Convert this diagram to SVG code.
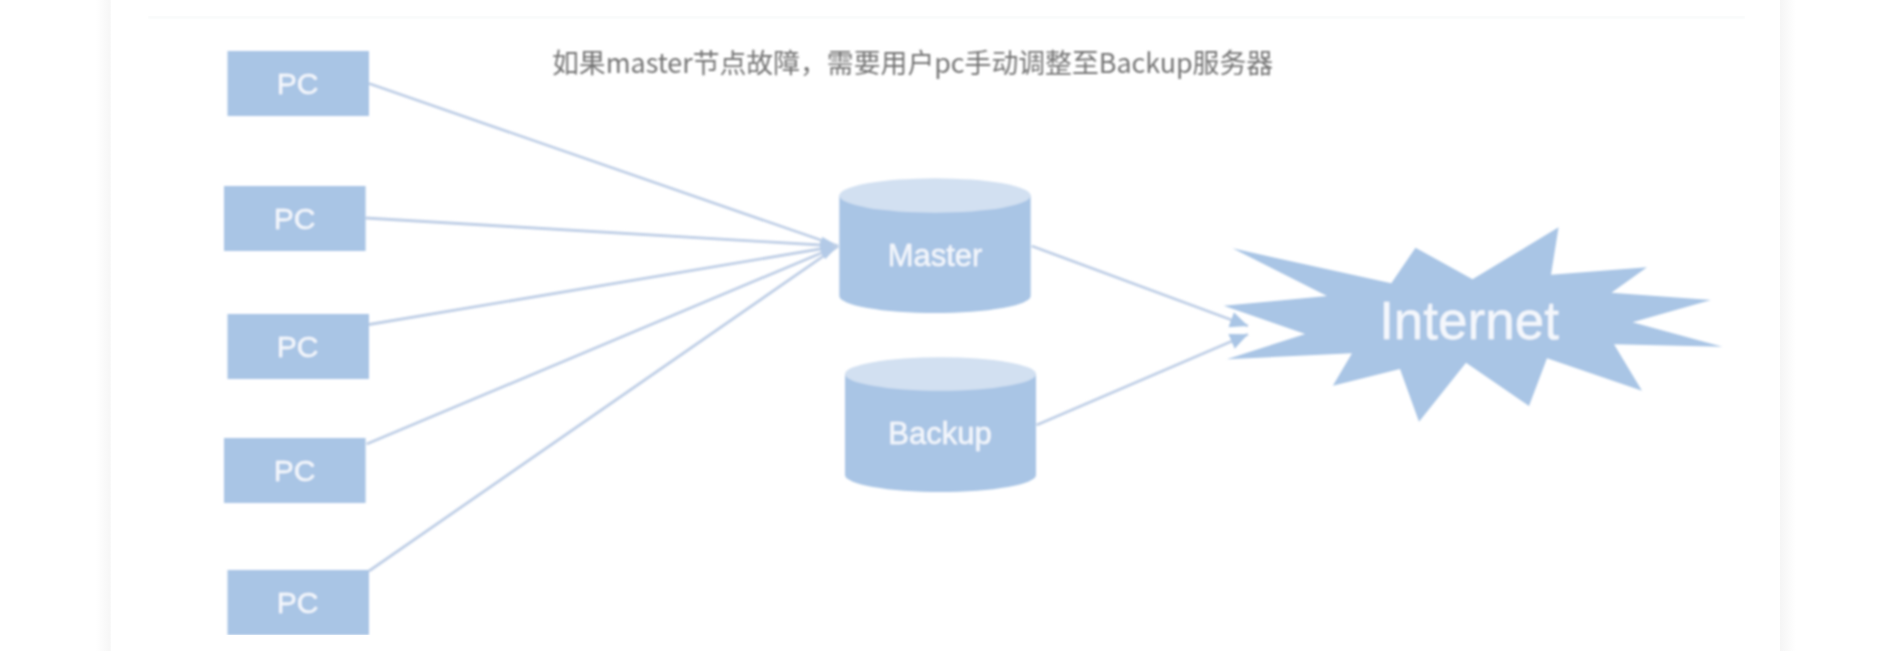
<svg xmlns="http://www.w3.org/2000/svg" width="1899" height="651" viewBox="0 0 1899 651">
<style>
.box{fill:#a9c5e5}
.lid{fill:#d2e0f1}
.lbl{fill:#f4f7fc;stroke:#f4f7fc;stroke-width:.4;font-family:"Liberation Sans",Arial,sans-serif;text-anchor:middle}
.pc{font-size:30px}
.db{font-size:31px}
.conn{fill:none;stroke:#bfcfe6;stroke-width:2.8}
.fan{marker-end:url(#fanarr)}
.out{marker-end:url(#arr)}
.note{fill:#737373;font-family:"Noto Sans CJK SC","Noto Sans",sans-serif;font-size:26.850px}
</style>
<defs>
<marker id="arr" markerUnits="userSpaceOnUse" markerWidth="20" markerHeight="20" refX="18" refY="8" orient="auto"><path d="M0 0L18 8L0 16Z" fill="#a9c5e5"/></marker>
<marker id="fanarr" markerUnits="userSpaceOnUse" markerWidth="20" markerHeight="12" refX="18" refY="5" orient="auto"><path d="M0 1.500L18 5L0 8.500Z" fill="#b3cae7"/></marker>
<linearGradient id="gl" x1="0" x2="1" y1="0" y2="0"><stop offset="0" stop-color="#ffffff"/><stop offset="1" stop-color="#f6f6f6"/></linearGradient>
<linearGradient id="gr" x1="0" x2="1" y1="0" y2="0"><stop offset="0" stop-color="#f5f5f5"/><stop offset="1" stop-color="#ffffff"/></linearGradient>
<filter id="soft" x="0" y="0" width="100%" height="100%"><feGaussianBlur stdDeviation="1"/></filter>
</defs>
<rect width="1899" height="651" fill="#ffffff"/>
<rect x="96" y="0" width="14.700" height="651" fill="url(#gl)"/>
<rect x="1780" y="0" width="16" height="651" fill="url(#gr)"/>
<g filter="url(#soft)">
<rect x="148" y="16.500" width="1597" height="1.500" fill="#f2f6f6"/>
<g id="connectors">
<path class="conn fan" d="M369 83.500L838 246"/>
<path class="conn fan" d="M365.600 218L838 246"/>
<path class="conn fan" d="M369 324.500L838 246"/>
<path class="conn fan" d="M366.700 444L838 246"/>
<path class="conn fan" d="M369 571L838 246"/>
<path class="conn out" d="M1031.700 246L1248 326"/>
<path class="conn out" d="M1036.700 425L1248 334.300"/>
</g>
<g id="pc1"><rect class="box" x="227.500" y="51" width="141.500" height="65"/><text class="lbl pc" x="297.500" y="94">PC</text></g>
<g id="pc2"><rect class="box" x="224" y="186" width="141.600" height="65"/><text class="lbl pc" x="294.500" y="229">PC</text></g>
<g id="pc3"><rect class="box" x="227.500" y="314" width="141.500" height="65"/><text class="lbl pc" x="297.500" y="356.500">PC</text></g>
<g id="pc4"><rect class="box" x="224" y="438" width="141.600" height="65"/><text class="lbl pc" x="294.500" y="480.500">PC</text></g>
<g id="pc5"><rect class="box" x="227.500" y="570" width="141.500" height="65"/><text class="lbl pc" x="297.500" y="612.500">PC</text></g>
<g id="master"><path class="box" d="M839.300 195.500V296A95.700 17 0 0 0 1030.700 296V195.500Z"/><ellipse class="lid" cx="935" cy="195.500" rx="95.700" ry="17.200"/><text class="lbl db" x="935" y="266">Master</text></g>
<g id="backup"><path class="box" d="M845 374V475A95.500 17 0 0 0 1036 475V374Z"/><ellipse class="lid" cx="940.500" cy="374" rx="95.500" ry="16.700"/><text class="lbl db" x="940" y="444">Backup</text></g>
<g id="internet"><polygon class="box" points="1232.500,248.300 1391.300,283.300 1415.500,247.700 1472.500,279.300 1558.600,227.300 1551,274.700 1647,267.300 1611.400,292.700 1710.900,300 1632.500,322.300 1722.400,346.700 1614,344.300 1642,390.700 1547,358.300 1529,406 1466,362.700 1419,421.700 1400,369 1332.800,385.700 1352,353.300 1226.800,359.300 1305.200,334 1223.700,305.700 1327,296"/><text class="lbl" x="1469" y="339" font-size="53">Internet</text></g>
<text id="note" class="note" x="552" y="73">如果master节点故障，需要用户pc手动调整至Backup服务器</text>
</g>
</svg>
